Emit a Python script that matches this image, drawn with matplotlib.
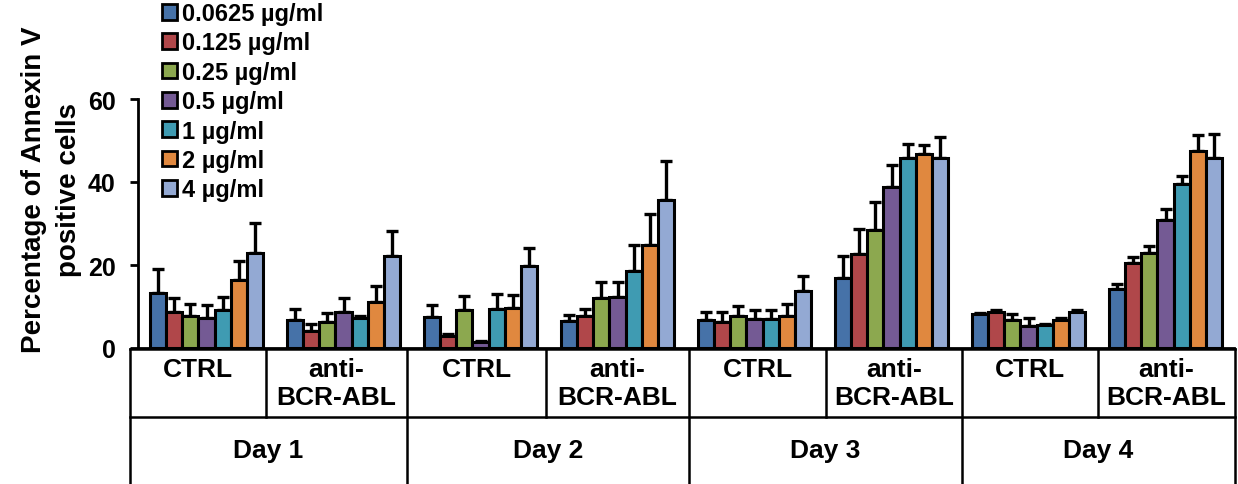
import numpy as np
import matplotlib
matplotlib.use("Agg")
import matplotlib.pyplot as plt
from matplotlib.lines import Line2D
from matplotlib.patches import Patch

plt.rcParams['font.family'] = ['Liberation Sans', 'DejaVu Sans']
plt.rcParams['font.weight'] = 'bold'

W, H = 1238, 485

conc = ['0.0625 µg/ml', '0.125 µg/ml', '0.25 µg/ml', '0.5 µg/ml',
        '1 µg/ml', '2 µg/ml', '4 µg/ml']
colors = ['#4672A8', '#B0474A', '#8CA84F', '#745A94', '#3F9BB2', '#E0883F', '#93A9D3']

groups = ['CTRL', 'anti-\nBCR-ABL'] * 4
days = ['Day 1', 'Day 2', 'Day 3', 'Day 4']

# mean values, one list per concentration, 8 groups (day1 ctrl, day1 anti, ...)
c0625 = [13.3, 6.8, 7.4, 6.4, 6.8, 16.8, 8.2, 14.2]
c125 = [8.7, 4.2, 3.0, 7.8, 6.3, 22.7, 8.7, 20.4]
c25 = [7.6, 6.2, 9.2, 12.0, 7.6, 28.5, 6.7, 23.0]
c5 = [7.2, 8.6, 1.4, 12.4, 7.0, 38.7, 5.4, 30.9]
c1 = [9.2, 7.2, 9.4, 18.5, 7.0, 45.9, 5.6, 39.5]
c2 = [16.5, 11.0, 9.6, 24.7, 7.8, 46.7, 6.8, 47.5]
c4 = [22.9, 22.2, 19.7, 35.7, 13.8, 45.9, 8.7, 45.7]

# error bars (upper only)
e0625 = [5.8, 2.6, 3.0, 1.6, 1.8, 5.4, 0.3, 1.2]
e125 = [3.3, 1.6, 0.4, 1.6, 2.3, 6.0, 0.4, 1.6]
e25 = [3.0, 2.2, 3.4, 4.0, 2.6, 6.8, 1.6, 1.5]
e5 = [3.2, 3.4, 0.3, 3.4, 2.2, 5.5, 1.9, 2.6]
e1 = [3.2, 0.4, 3.6, 6.2, 2.2, 3.3, 0.3, 1.9]
e2 = [4.4, 4.0, 3.2, 7.6, 2.8, 2.3, 0.4, 3.8]
e4 = [7.2, 5.9, 4.3, 9.4, 3.6, 5.0, 0.4, 5.9]

means = [c0625, c125, c25, c5, c1, c2, c4]
errs = [e0625, e125, e25, e5, e1, e2, e4]

fig = plt.figure(figsize=(W / 100, H / 100), dpi=100)
ax = fig.add_axes([138 / W, (H - 349) / H, (1234 - 138) / W, (349 - 100) / H])

x = np.arange(len(groups)) + 0.5
bw = 0.117
for i in range(len(conc)):
    pos = x + (i - 3) * bw
    ax.bar(pos, means[i], width=bw, color=colors[i], edgecolor='black',
           linewidth=2.2, zorder=3)
    ax.errorbar(pos, means[i], yerr=[np.zeros(len(errs[i])), errs[i]], fmt='none',
                ecolor='black', elinewidth=2.4, capsize=4.5, capthick=2.4, zorder=2)

ax.set_xlim(0, 8)
ax.set_ylim(0, 60)
ax.set_yticks([0, 20, 40, 60])
ax.set_xticks([])
for s in ['top', 'right']:
    ax.spines[s].set_visible(False)
ax.spines['left'].set_linewidth(2)
ax.spines['bottom'].set_linewidth(2)
ax.tick_params(axis='y', direction='out', length=6, width=2, labelsize=18, pad=10)
for lab in ax.get_yticklabels():
    lab.set_fontweight('bold')

# data table below the plot
def fx(px):
    return px / W

def fy(py):
    return 1 - py / H

table_x = [130, 266, 407, 546, 689, 826, 962, 1098, 1235]
top, mid, bot = 350, 418, 485
lw = 1.8
for yy in [top, mid]:
    fig.add_artist(Line2D([fx(130), fx(1235)], [fy(yy), fy(yy)], color='black', lw=lw))
for k, xx in enumerate(table_x):
    yb = bot if k % 2 == 0 else mid
    fig.add_artist(Line2D([fx(xx), fx(xx)], [fy(top), fy(yb)], color='black', lw=lw))

for k, g in enumerate(groups):
    cx = (table_x[k] + table_x[k + 1]) / 2
    fig.text(fx(cx), fy(358), g, ha='center', va='top', fontsize=19,
             fontweight='bold', linespacing=1.2)
for d, day in enumerate(days):
    cx = (table_x[2 * d] + table_x[2 * d + 2]) / 2
    fig.text(fx(cx), fy(451), day, ha='center', va='center', fontsize=19,
             fontweight='bold')

fig.text(fx(52), fy(190), 'Percentage of Annexin V\npositive cells', rotation=90,
         ha='center', va='center', fontsize=20, fontweight='bold', linespacing=1.45)

handles = [Patch(facecolor=colors[i], edgecolor='black', linewidth=2) for i in range(len(conc))]
fig.legend(handles, conc, loc='upper left', bbox_to_anchor=(fx(162), fy(3)),
           frameon=False, prop={'weight': 'bold', 'size': 17},
           handlelength=0.65, handleheight=0.65, handletextpad=0.2,
           labelspacing=0.27, borderpad=0, borderaxespad=0)

fig.savefig('out.png', dpi=100)
